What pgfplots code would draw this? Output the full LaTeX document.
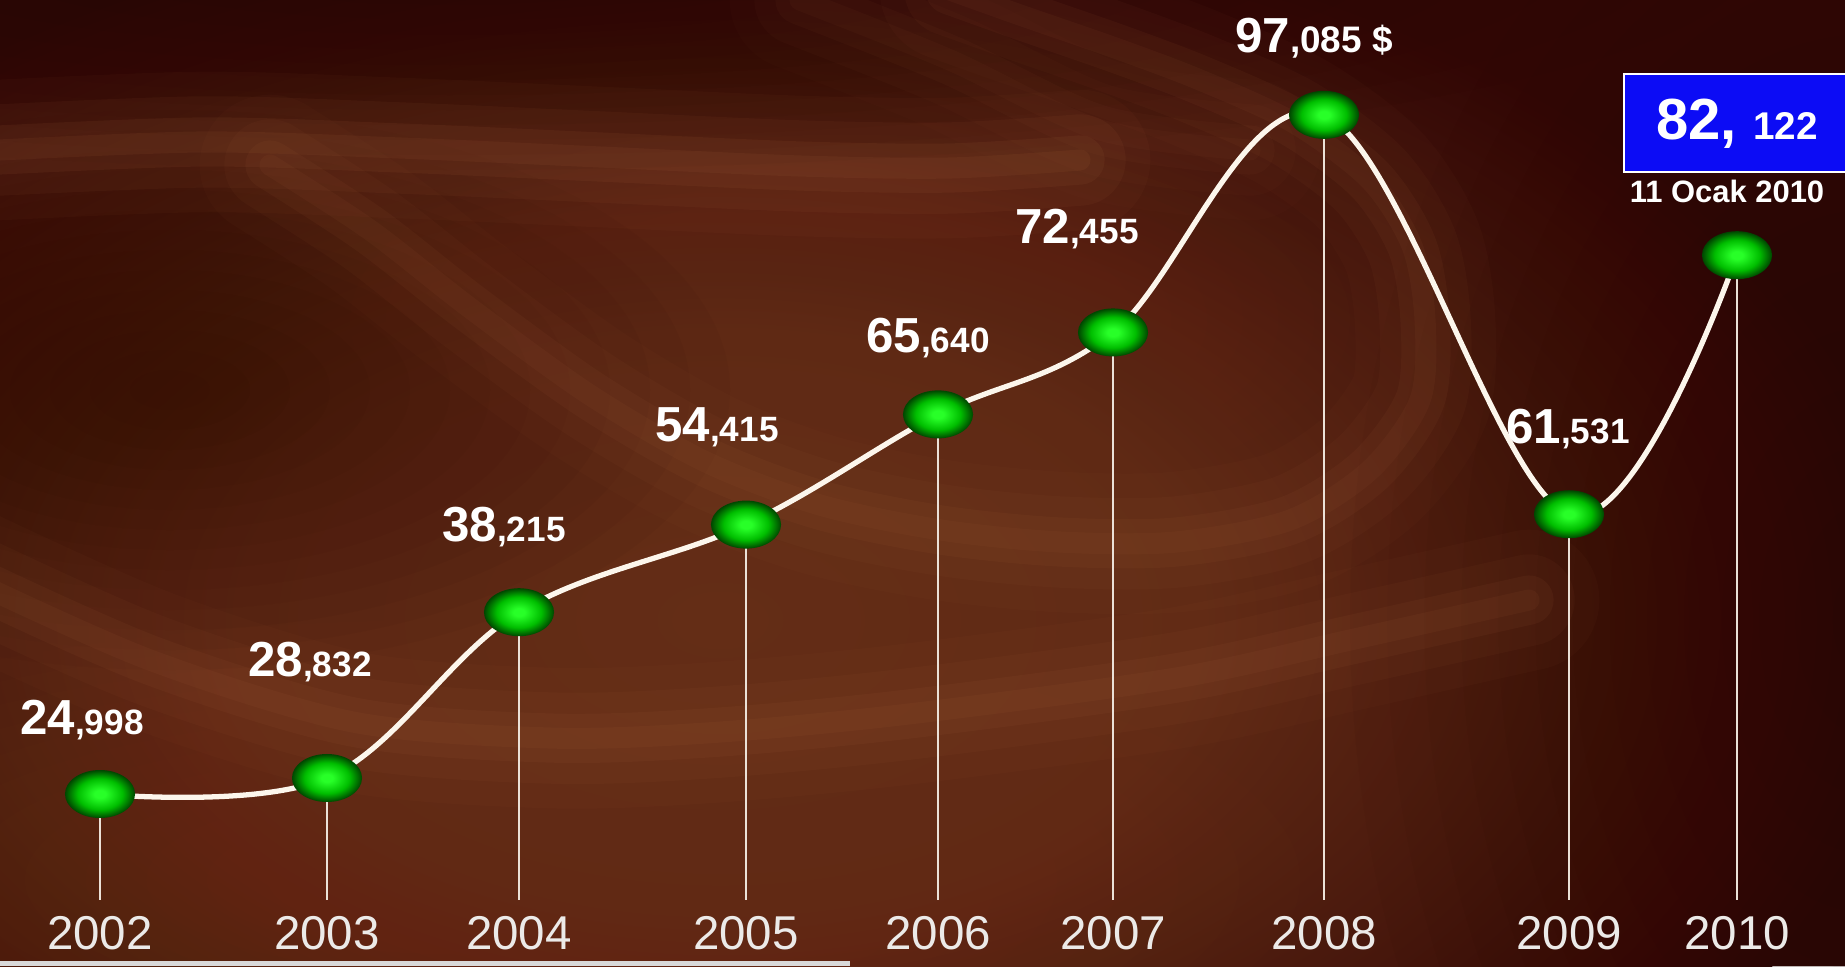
\documentclass[border=0pt]{standalone}
\usepackage{pgfplots}
\usepackage{pgfplotstable}
\pgfplotsset{compat=1.18}
\usepackage{fontspec}
\setmainfont{Liberation Sans}

\definecolor{bgdark}{RGB}{50,7,5}
\definecolor{bgmid}{RGB}{100,45,22}
\definecolor{bgband}{RGB}{175,105,65}
\definecolor{bglow}{RGB}{120,58,30}
\definecolor{bgdeep}{RGB}{36,6,4}
\definecolor{ballc}{RGB}{40,255,40}
\definecolor{ballm}{RGB}{0,190,0}
\definecolor{balle}{RGB}{0,70,0}
\definecolor{boxblue}{RGB}{12,12,245}
\definecolor{curvecol}{RGB}{252,246,236}
\definecolor{yearcol}{RGB}{236,234,232}
\definecolor{stemcol}{RGB}{235,225,215}

% radial shadings: the central 50bp square is fitted to the path
\pgfdeclareradialshading{greenball}{\pgfpointorigin}{color(0bp)=(ballc); color(4bp)=(ballc); color(16bp)=(ballm); color(25bp)=(balle); color(50bp)=(balle)}
\pgfdeclareradialshading{brownglow}{\pgfpointorigin}{color(0bp)=(bgmid); color(10bp)=(bgmid!90!bgdark); color(25bp)=(bgdark); color(50bp)=(bgdark)}

\pgfdeclareplotmark{gball}{%
  \pgfpathellipse{\pgfpointorigin}{\pgfqpoint{1.46\pgfplotmarksize}{0pt}}{\pgfqpoint{0pt}{\pgfplotmarksize}}%
  \pgfshadepath{greenball}{0}%
  \pgfusepath{discard}%
}

% x: position across the slide, y: height as drawn
\pgfplotstableread{
x     y
100   25.0
327   26.7
519   44.3
746   53.6
938   65.3
1113  74.0
1324  97.1
1569  54.7
1737  82.2
}\gold

\newcommand\val[2]{\textbf{\fontsize{14}{14}\selectfont #1\fontsize{10}{10}\selectfont ,#2}}
\newcommand\softband[2][1]{%
  \draw[bgband, line cap=round, line width=40pt, opacity=0.035*#1] #2;
  \draw[bgband, line cap=round, line width=26pt, opacity=0.05*#1] #2;
  \draw[bgband, line cap=round, line width=14pt, opacity=0.07*#1] #2;
  \draw[bgband, line cap=round, line width=6pt, opacity=0.07*#1] #2;
}
% soft blob: colour, centre, x radius, y radius, opacity per layer
\newcommand\blob[5]{%
  \foreach \k in {1,...,14} {\fill[#1, opacity=#5] #2 ellipse [x radius=#3/14*\k, y radius=#4/14*\k];}
}

\begin{document}
\begin{tikzpicture}
\path[use as bounding box] (0,0) rectangle (18.45cm,9.66cm);
\begin{scope}[shift={(0cm,9.66cm)}, x=0.1mm, y=-0.1mm]
  \clip (0,0) rectangle (1845,966);
  \fill[bgdark] (0,0) rectangle (1845,966);
  \shade[shading=brownglow] (720,620) ellipse [x radius=1200, y radius=720];
  \blob{bglow}{(450,880)}{850}{260}{0.045}
  \blob{bglow}{(850,320)}{500}{200}{0.03}
  \blob{bgdeep}{(170,390)}{560}{280}{0.04}
  \blob{bgdeep}{(450,-40)}{1300}{210}{0.06}
  \blob{bgdeep}{(1870,620)}{520}{820}{0.045}
  % light swirls
  \softband[1.4]{plot[smooth] coordinates {(-40,152) (200,142) (400,148) (600,157) (800,166) (950,168) (1080,160)}}
  \softband{plot[smooth] coordinates {(270,165) (370,230) (470,308) (590,395) (706,462) (820,505) (941,530) (1060,542) (1176,542) (1290,520) (1370,470) (1420,400) (1425,320) (1412,246) (1370,180) (1294,123) (1200,80) (1118,49) (1020,15) (950,-10)}}
  \softband[1.1]{plot[smooth] coordinates {(-40,575) (150,660) (353,722) (550,738) (706,733) (900,715) (1176,678) (1350,640) (1529,600)}}
  \softband[0.7]{plot[smooth] coordinates {(800,0) (950,60) (1100,130) (1250,150)}}
  % thin light strip along the bottom edge
  \fill[white!70!gray] (0,961) rectangle (850,966);
\end{scope}

\begin{axis}[
  at={(0,0)}, anchor=south west,
  scale only axis, width=18.45cm, height=9.66cm,
  xmin=0, xmax=1845, ymin=6.74, ymax=109.29,
  axis line style={draw=none},
  tick style={draw=none},
  ytick=\empty,
  xtick={100,327,519,746,938,1113,1324,1569,1737},
  xticklabels={2002,2003,2004,2005,2006,2007,2008,2009,2010},
  xticklabel style={anchor=center, yshift=3.3mm, text=yearcol,
    font=\fontsize{13.5}{14}\selectfont},
  clip=false,
]
  \addplot[draw=none, mark=none, forget plot,
    error bars/.cd, y dir=minus, y explicit, error mark=none,
    error bar style={draw=stemcol, line width=0.4pt}]
    table[x=x, y=y, y error expr=\thisrow{y}-13.75] {\gold};
  \addplot[smooth, tension=0.6, line width=1.5pt, curvecol] table[x=x, y=y] {\gold};
  \addplot[only marks, mark=gball, mark size=2.4mm] table[x=x, y=y] {\gold};

  \begin{scope}[every node/.style={text=white}]
  \node at (axis cs:82,32.85) {\val{24}{998}};
  \node at (axis cs:310,39.01) {\val{28}{832}};
  \node at (axis cs:504,53.34) {\val{38}{215}};
  \node at (axis cs:717,63.96) {\val{54}{415}};
  \node at (axis cs:928,73.41) {\val{65}{640}};
  \node at (axis cs:1077,84.98) {\val{72}{455}};
  \node at (axis cs:1314,105.25) {\textbf{\fontsize{14}{14}\selectfont 97\fontsize{10.5}{10}\selectfont ,085 \$}};
  \node at (axis cs:1568,63.75) {\val{61}{531}};
  \end{scope}
\end{axis}

\begin{scope}[shift={(0cm,9.66cm)}, x=0.1mm, y=-0.1mm]
  \fill[boxblue] (1624,74) rectangle (1845,172);
  \draw[white, line width=0.7pt] (1845,74) -- (1624,74) -- (1624,172) -- (1845,172);
  \node[text=white, font=\bfseries] at (1737,124)
    {\fontsize{16.5}{16}\selectfont 82, \fontsize{11}{11}\selectfont 122};
  \node[text=white, font=\bfseries\fontsize{8.8}{9}\selectfont] at (1727,191) {11 Ocak 2010};
\end{scope}
\end{tikzpicture}
\end{document}
